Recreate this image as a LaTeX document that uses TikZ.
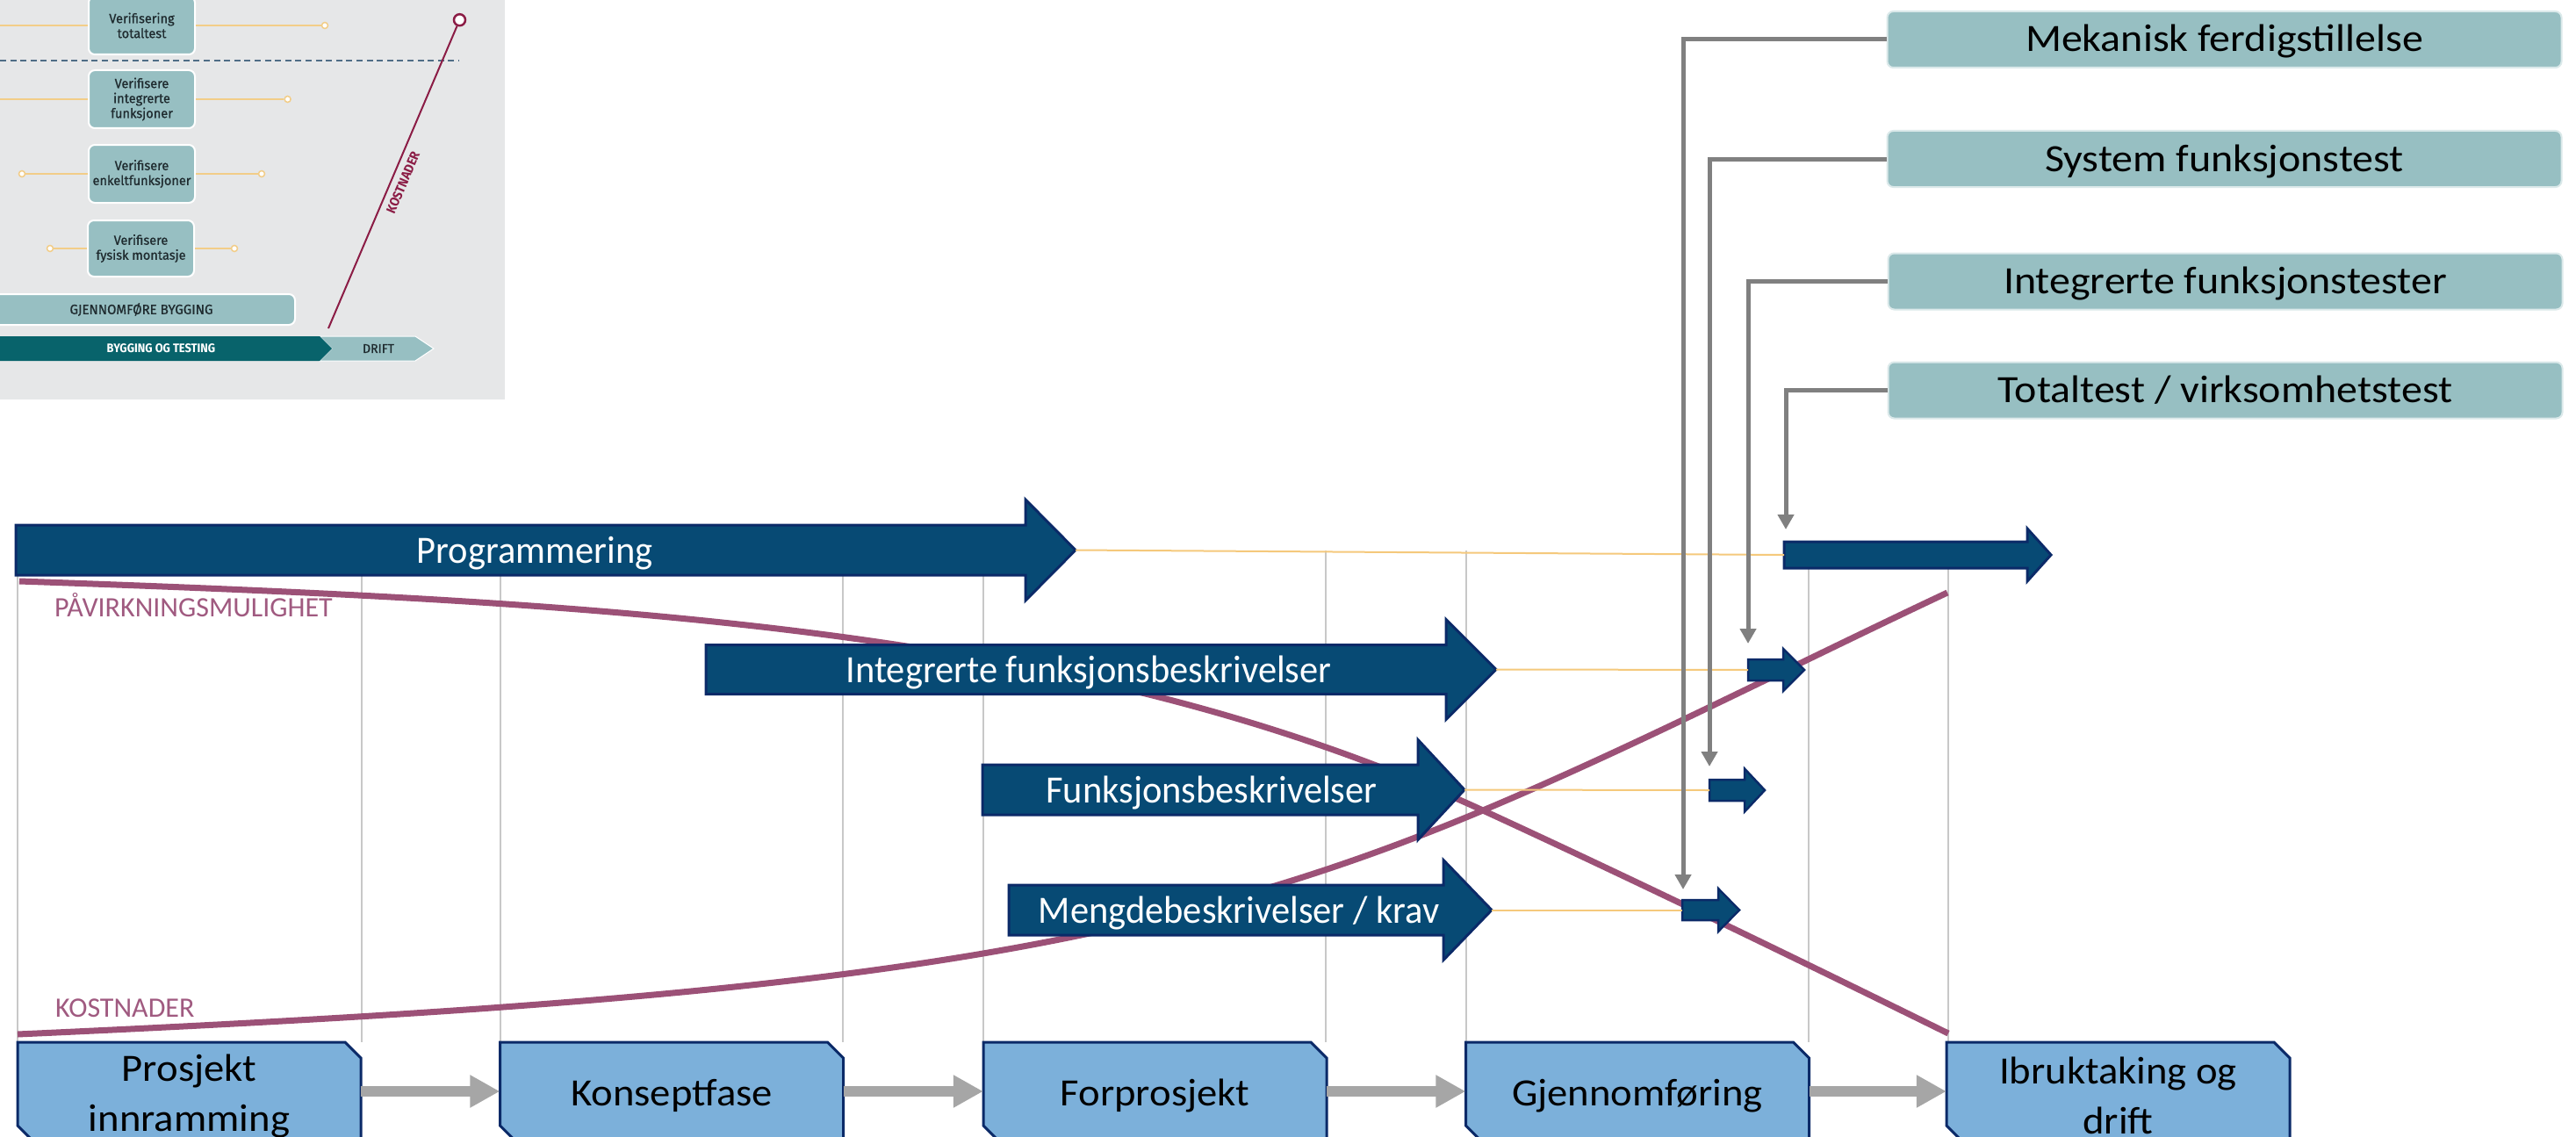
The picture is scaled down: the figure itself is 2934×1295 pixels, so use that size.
\documentclass[tikz,border=0pt]{standalone}
\usepackage{fontspec}
\setmainfont{Carlito}
\newfontfamily\labelfont[FakeStretch=1.09]{Carlito}
\newfontfamily\phasefont[FakeStretch=1.06]{Carlito}
\newfontfamily\arrowfont[FakeStretch=0.965]{Carlito}
\newfontfamily\insetfont[FakeStretch=0.97,FakeBold=0.8]{Fira Sans}
\newfontfamily\insetheavy[FakeStretch=0.92]{Fira Sans}
\usetikzlibrary{arrows.meta}
\definecolor{navy}{HTML}{0B2A68}
\definecolor{arrowblue}{HTML}{074A74}
\definecolor{phaseblue}{HTML}{7CB0DA}
\definecolor{flowgray}{HTML}{A6A6A6}
\definecolor{conngray}{HTML}{808080}
\definecolor{gridgray}{HTML}{C8C8C8}
\definecolor{plum}{HTML}{9C5177}
\definecolor{plumtext}{HTML}{A05A80}
\definecolor{sand}{HTML}{F5C97C}
\definecolor{labelteal}{HTML}{97BFC2}
\definecolor{insetbg}{HTML}{E6E7E8}
\definecolor{darkteal}{HTML}{08636B}
\definecolor{wine}{HTML}{8B1C45}
\definecolor{slate}{HTML}{4F6D86}
\definecolor{insetyellow}{HTML}{F2CD88}
\definecolor{insettext}{HTML}{1F2B2F}

\newcommand\blockarrow[8]{% name, left x, head base x, tip x, centre y, half shaft, half head, border
  \draw[bigarrow, line width=#8] ({#2},{#5-#6}) -- ({#3},{#5-#6}) -- ({#3},{#5-#7}) -- ({#4},{#5})
     -- ({#3},{#5+#7}) -- ({#3},{#5+#6}) -- ({#2},{#5+#6}) -- cycle;
  \coordinate (#1-tip) at ({#4},{#5});
  \coordinate (#1-tail) at ({#2},{#5});
}
\newcommand\phasestep[3]{% name, centre x, text
  \draw[phaseshape] ({#2-195.5},1187) -- ({#2+177.5},1187) -- ({#2+195.5},1205) -- ({#2+195.5},1300)
     -- ({#2-177.5},1300) -- ({#2-195.5},1282) -- cycle;
  \node[phasetext] (#1) at (#2,1248) {#3};
}

\begin{document}
\begin{tikzpicture}[x=1pt,y=-1pt,
  bigarrow/.style={fill=arrowblue, draw=navy, line join=miter},
  arrowtext/.style={text=white, font=\arrowfont\fontsize{44}{53}\selectfont, text height=28pt, text depth=0pt, inner sep=0pt},
  labelbox/.style={fill=labelteal, draw=labelteal!35!white, line width=2pt, rounded corners=7pt,
     minimum width=768pt, minimum height=64pt, font=\labelfont\fontsize{44}{53}\selectfont, text height=28pt, text depth=0pt},
  phaseshape/.style={fill=phaseblue, draw=navy, line width=3pt, line join=miter},
  phasetext/.style={font=\phasefont\fontsize{44}{57}\selectfont, align=center, minimum width=391pt, minimum height=111pt, inner sep=0pt},
  flow/.style={draw=flowgray, line width=12pt, -{Triangle[length=34pt,width=35pt]}},
  conn/.style={draw=conngray, line width=5pt, -{Triangle[length=17pt,width=18pt]}},
  gridline/.style={draw=gridgray, line width=1.5pt},
  trace/.style={draw=sand, line width=2pt},
  curve/.style={draw=plum, line width=7pt},
  curvelabel/.style={text=plumtext, font=\fontsize{32}{36}\selectfont, text height=20.5pt, text depth=0pt, inner sep=0pt, anchor=west},
  verbox/.style={fill=labelteal, draw=white, line width=2pt, rounded corners=7pt, minimum width=121pt,
     align=center, text=insettext, font=\insetfont\fontsize{15}{17}\selectfont, inner sep=0pt},
  insetline/.style={draw=insetyellow, line width=1.8pt},
  dot/.style={circle, fill=white, draw=insetyellow, line width=1.5pt, inner sep=0pt, minimum size=7pt}
]
\useasboundingbox (0,0) rectangle (2934,1295);
\clip (0,0) rectangle (2934,1295);
\fill[white] (0,0) rectangle (2934,1295);

% ---------------- inset (top left) ----------------
\fill[insetbg] (0,0) rectangle (575,455);
\draw[slate, line width=1.3pt, dash pattern=on 7pt off 4.6pt] (0,69) -- (523,69);
\node[verbox, minimum height=66pt] (v1) at (161.5,29) {Verifisering\\totaltest};
\node[verbox, minimum height=66pt] (v2) at (161.5,113) {Verifisere\\integrerte\\funksjoner};
\node[verbox, minimum height=66pt] (v3) at (161.5,198) {Verifisere\\enkeltfunksjoner};
\node[verbox, minimum height=64pt] (v4) at (160.5,283) {Verifisere\\fysisk montasje};
\node[dot] (d1r) at (370,29) {};
\node[dot] (d2r) at (327.6,113) {};
\node[dot] (d3l) at (25,198) {};
\node[dot] (d3r) at (298,198) {};
\node[dot] (d4l) at (57,283) {};
\node[dot] (d4r) at (267,283) {};
\coordinate (e1) at (0,29);
\coordinate (e2) at (0,113);
\draw[insetline] (e1) -- (v1.west);
\draw[insetline] (v1.east) -- (d1r);
\draw[insetline] (e2) -- (v2.west);
\draw[insetline] (v2.east) -- (d2r);
\draw[insetline] (d3l) -- (v3.west);
\draw[insetline] (v3.east) -- (d3r);
\draw[insetline] (d4l) -- (v4.west);
\draw[insetline] (v4.east) -- (d4r);
\node[fill=labelteal, draw=white, line width=2pt, rounded corners=7pt, minimum width=346pt, minimum height=35pt,
      inner sep=0pt, text=insettext, font=\insetfont\fontsize{15.5}{16}\selectfont] (gb) at (163,352.5) {\hspace*{-4pt}GJENNOMFØRE BYGGING};
\fill[labelteal, draw=white, line width=1pt] (364,383) -- (473,383) -- (494,397) -- (473,411) -- (364,411) -- (378,397) -- cycle;
\fill[darkteal] (0,383) -- (364,383) -- (378,397) -- (364,411) -- (0,411) -- cycle;
\node[text=white, font=\insetheavy\bfseries\fontsize{14}{15}\selectfont, inner sep=0pt] (bt) at (183.5,397) {BYGGING OG TESTING};
\node[text=insettext, font=\insetfont\fontsize{14.5}{15}\selectfont, inner sep=0pt] (dr) at (431,397) {DRIFT};
\coordinate (ks) at (374,374);
\node[circle, draw=wine, fill=white, line width=2.5pt, minimum size=13pt, inner sep=0pt] (ke) at (523.5,22.7) {};
\draw[wine, line width=2pt] (ks) -- (ke);
\node[text=wine, font=\insetheavy\bfseries\fontsize{15}{16}\selectfont, rotate=66.9, inner sep=0pt] (kl) at (459,208) {KOSTNADER};

% ---------------- grid lines ----------------
\foreach \gx in {20,412,570,960,1120,1510,1670,2060,2219}
  \draw[gridline] (\gx,627) -- (\gx,1187);

% ---------------- curves ----------------
\draw[curve] (22,662) .. controls (722,686.5) and (1239,716) .. (1689,923)
   .. controls (1866,1004.4) and (2040,1089) .. (2219,1177);
\draw[curve] (20,1178) .. controls (920,1137.5) and (1289,1091) .. (1689,923)
   .. controls (1865,849) and (2040,758.7) .. (2218,675);
\node[curvelabel] (pav) at (62,692) {PÅVIRKNINGSMULIGHET};
\node[curvelabel] (kost) at (63,1148) {KOSTNADER};

% ---------------- block arrows ----------------
\blockarrow{prog}{18}{1168}{1225}{626.5}{28.5}{57.5}{3pt}
\blockarrow{integ}{804}{1647}{1704}{762.5}{28}{57}{3pt}
\blockarrow{funk}{1119}{1615}{1668}{899.5}{28.5}{57}{3pt}
\blockarrow{mengde}{1149}{1644}{1699}{1036.5}{28.5}{57}{3pt}
\node[arrowtext] (progtext) at (609,627) {Programmering};
\node[arrowtext] (integtext) at (1240,763) {Integrerte funksjonsbeskrivelser};
\node[arrowtext] (funktext) at (1380,900) {Funksjonsbeskrivelser};
\node[arrowtext] (mengdetext) at (1411,1037) {Mengdebeskrivelser / krav};

\blockarrow{sprog}{2032}{2309}{2336}{632}{15}{30}{3pt}
\blockarrow{sinteg}{1991}{2031}{2055}{763}{12}{24}{2.5pt}
\blockarrow{sfunk}{1947}{1987}{2010}{900}{12}{24.5}{2.5pt}
\blockarrow{smengde}{1916}{1957}{1981}{1036.5}{11.5}{24.5}{2.5pt}

\draw[trace] (prog-tip) -- (sprog-tail);
\draw[trace] (integ-tip) -- (sinteg-tail);
\draw[trace] (funk-tip) -- (sfunk-tail);
\draw[trace] (mengde-tip) -- (smengde-tail);

% ---------------- milestone labels ----------------
\node[labelbox] (mek) at (2533.5,45) {Mekanisk ferdigstillelse};
\node[labelbox] (sys) at (2533.5,181) {System funksjonstest};
\node[labelbox] (int) at (2534.5,320.5) {Integrerte funksjonstester};
\node[labelbox] (tot) at (2534.5,444.5) {Totaltest / virksomhetstest};
\coordinate (mek-end) at (1917,1013);
\coordinate (sys-end) at (1947,873);
\coordinate (int-end) at (1991,733);
\coordinate (tot-end) at (2034,603);
\draw[conn] (mek.west) -| (mek-end);
\draw[conn] (sys.west) -| (sys-end);
\draw[conn] (int.west) -| (int-end);
\draw[conn] (tot.west) -| (tot-end);

% ---------------- phases ----------------
\phasestep{p1}{215.5}{Prosjekt\\innramming}
\phasestep{p2}{765}{Konseptfase}
\phasestep{p3}{1315.5}{Forprosjekt}
\phasestep{p4}{1865}{Gjennomføring}
\phasestep{p5}{2412.5}{Ibruktaking og\\drift}
\draw[flow] ([yshift=5pt]p1.east) -- ([yshift=5pt]p2.west);
\draw[flow] ([yshift=5pt]p2.east) -- ([yshift=5pt]p3.west);
\draw[flow] ([yshift=5pt]p3.east) -- ([yshift=5pt]p4.west);
\draw[flow] ([yshift=5pt]p4.east) -- ([yshift=5pt]p5.west);
\end{tikzpicture}
\end{document}
